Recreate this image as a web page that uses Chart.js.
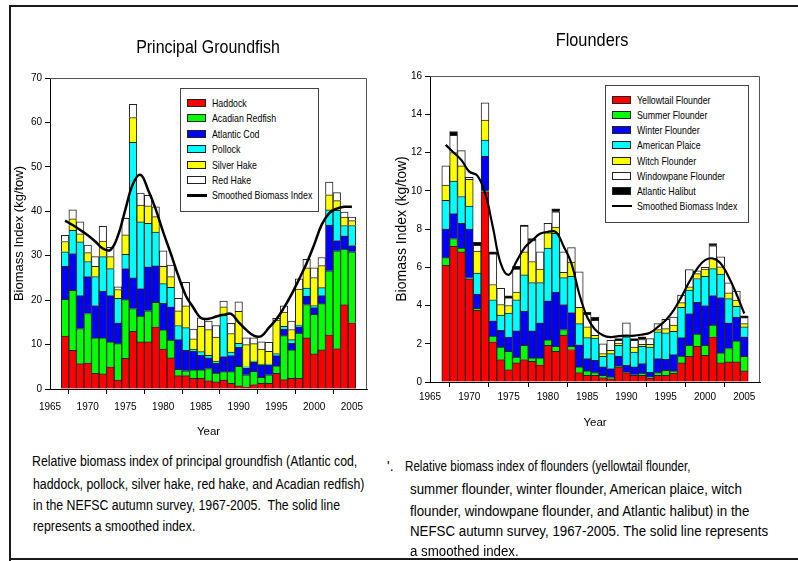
<!DOCTYPE html>
<html>
<head>
<meta charset="utf-8">
<script src="https://cdn.jsdelivr.net/npm/chart.js@4/dist/chart.umd.min.js"></script>
<style>
  body { margin: 0; width: 798px; height: 561px; background: #fff; position: relative; overflow: hidden;
         font-family: 'Liberation Sans', Arial, sans-serif; color: #000; }
  canvas { position: absolute; top: 0; }
  .rule { position: absolute; background: #1a1a1a; }
  .title { position: absolute; font-size: 19px; white-space: nowrap; transform-origin: center center; }
  .legend { position: absolute; border: 1px solid #444; background: #fff; box-sizing: border-box; }
  .legend .row { position: absolute; height: 15px; line-height: 15px; font-size: 11px; white-space: nowrap; }
  .legend .sw { position: absolute; top: 3px; left: 0; width: 19px; height: 8px; border: 1px solid #222; box-sizing: border-box; }
  .legend .ln { position: absolute; top: 6px; left: 0; width: 20px; height: 2.5px; background: #000; }
  .legend .lbl { position: absolute; left: 25px; top: 0; transform: scaleX(0.8); transform-origin: left center; }
  .cap { position: absolute; font-size: 14px; line-height: 21px; white-space: nowrap; transform-origin: left center; }
</style>
</head>
<body>
<canvas id="groundfish" width="380" height="450" style="left:0"></canvas>
<canvas id="flounders" width="418" height="450" style="left:380px"></canvas>

<div class="rule" style="left:9px;top:5px;width:789px;height:2px"></div>
<div class="rule" style="left:9px;top:5px;width:2px;height:556px"></div>
<div class="rule" style="left:9px;top:558px;width:789px;height:2px"></div>

<div class="title" style="left:208px;top:47px;transform:translate(-50%,-50%) scaleX(0.84)">Principal Groundfish</div>
<div class="title" style="left:592px;top:40px;transform:translate(-50%,-50%) scaleX(0.86)">Flounders</div>

<div class="legend" id="legendLeft" style="left:180px;top:88px;width:139px;height:124px"></div>
<div class="legend" id="legendRight" style="left:605px;top:85px;width:144px;height:138px"></div>

<div class="cap" style="left:32px;top:451px;transform:scaleX(0.88)">Relative biomass index of principal groundfish (Atlantic cod,</div>
<div class="cap" style="left:33px;top:474px;transform:scaleX(0.88)">haddock, pollock, silver hake, red hake, and Acadian redfish)</div>
<div class="cap" style="left:33px;top:495px;transform:scaleX(0.88)">in the NEFSC autumn survey, 1967-2005.&nbsp; The solid line</div>
<div class="cap" style="left:33px;top:516px;transform:scaleX(0.88)">represents a smoothed index.</div>

<div class="cap" style="left:387px;top:456px">'.</div>
<div class="cap" style="left:405px;top:456px;transform:scaleX(0.83)">Relative biomass index of flounders (yellowtail flounder,</div>
<div class="cap" style="left:410px;top:479px;transform:scaleX(0.95)">summer flounder, winter flounder, American plaice, witch</div>
<div class="cap" style="left:410px;top:501px;transform:scaleX(0.95)">flounder, windowpane flounder, and Atlantic halibut) in the</div>
<div class="cap" style="left:410px;top:521px;transform:scaleX(0.95)">NEFSC autumn survey, 1967-2005. The solid line represents</div>
<div class="cap" style="left:410px;top:541px;transform:scaleX(0.95)">a smoothed index.</div>

<script>
// survey years and axis ticks
const years = [1967, 1968, 1969, 1970, 1971, 1972, 1973, 1974, 1975, 1976,
  1977, 1978, 1979, 1980, 1981, 1982, 1983, 1984, 1985, 1986,
  1987, 1988, 1989, 1990, 1991, 1992, 1993, 1994, 1995, 1996,
  1997, 1998, 1999, 2000, 2001, 2002, 2003, 2004, 2005];
const yearTicks = [1965, 1970, 1975, 1980, 1985, 1990, 1995, 2000, 2005];
const groundfishTicks = [0, 10, 20, 30, 40, 50, 60, 70];
const flounderTicks = [0, 2, 4, 6, 8, 10, 12, 14, 16];

// principal groundfish, kg/tow per species (stack segments)
const haddock = [11.9, 8.7, 5.7, 5.9, 3.5, 3.4, 5.0, 2.0, 6.9, 13.0, 10.6, 10.6, 14.0, 9.0, 7.0, 3.0, 3.0, 2.4, 2.4, 1.9,
  1.6, 2.0, 1.3, 0.7, 0.5, 1.0, 1.3, 1.3, 3.5, 2.1, 2.4, 2.4, 11.5, 7.9, 8.8, 12.2, 9.1, 19.0, 14.9];
const redfish = [8.3, 13.5, 7.9, 11.1, 8.0, 8.1, 5.6, 8.2, 13.2, 5.1, 5.8, 7.0, 5.5, 4.3, 4.0, 1.4, 1.1, 1.9, 1.9, 2.7,
  2.0, 1.9, 2.6, 4.4, 2.7, 3.0, 1.3, 1.9, 1.7, 9.9, 6.4, 10.2, 7.5, 8.9, 10.4, 14.4, 22.0, 12.5, 16.0];
const cod = [7.4, 8.3, 7.4, 8.3, 7.3, 10.5, 10.4, 4.7, 7.0, 6.9, 6.2, 9.9, 8.2, 6.0, 7.5, 6.7, 4.6, 4.2, 3.3, 2.4,
  2.2, 3.4, 3.6, 4.3, 1.5, 2.0, 2.7, 2.2, 2.3, 1.5, 1.5, 1.4, 1.9, 1.5, 1.8, 10.3, 2.3, 3.0, 1.4];
const pollock = [3.3, 5.2, 12.1, 3.4, 6.5, 7.8, 6.1, 5.5, 3.2, 30.5, 15.0, 9.8, 7.6, 4.4, 4.4, 3.2, 5.1, 0.5, 0.8, 0.6,
  0.5, 9.3, 0.8, 0.9, 0.3, 0.3, 0.3, 0.2, 0.5, 0.6, 0.8, 0.4, 1.8, 0.5, 1.8, 3.4, 6.8, 2.3, 4.5];
const silverHake = [2.3, 2.6, 1.8, 2.0, 2.3, 3.5, 2.7, 2.0, 4.4, 5.6, 3.8, 3.9, 3.5, 3.9, 2.4, 3.3, 4.9, 2.3, 5.7, 5.8,
  5.4, 1.9, 4.2, 7.2, 5.0, 3.9, 3.4, 2.9, 7.5, 3.2, 2.3, 8.1, 4.6, 6.3, 5.0, 3.4, 2.2, 1.9, 1.1];
const redHake = [1.4, 2.0, 2.7, 1.7, 2.2, 3.3, 2.1, 0.6, 3.7, 3.0, 2.7, 2.4, 2.2, 3.5, 2.6, 2.8, 5.3, 2.2, 1.9, 1.9,
  2.6, 1.3, 2.3, 2.1, 1.5, 1.3, 1.6, 2.0, 0.4, 1.4, 1.9, 2.3, 1.9, 2.2, 1.8, 2.9, 1.8, 1.1, 0.8];
const groundfishSmooth = [37.9, 36.9, 35.8, 34.6, 33.2, 31.6, 31.3, 34.5, 40.5, 46.2, 48.2, 44.8, 40.5, 35.3, 30.5, 25.5, 21.0, 18.3, 16.0, 15.8,
  16.3, 16.7, 16.9, 15.0, 13.3, 12.0, 11.9, 13.8, 15.7, 18.3, 21.3, 24.7, 28.3, 32.5, 37.0, 39.6, 40.6, 41.0, 41.0];

// flounders, kg/tow per species (stack segments)
const yellowtail = [6.1, 7.1, 6.8, 5.4, 3.75, 9.95, 2.1, 1.17, 0.65, 1.0, 1.17, 1.08, 0.9, 1.92, 1.6, 2.45, 1.7, 0.49, 0.35, 0.35,
  0.23, 0.17, 0.79, 0.49, 0.35, 0.35, 0.21, 0.35, 0.35, 0.47, 1.0, 1.34, 1.87, 1.4, 2.36, 1.0, 1.05, 1.05, 0.58];
const summerFl = [0.4, 0.4, 0.2, 0.05, 0.1, 0.05, 0.3, 0.66, 0.95, 0.3, 0.75, 0.18, 0.36, 0.28, 0.27, 0.29, 0.17, 0.3, 0.23, 0.14,
  0.12, 0.09, 0.03, 0.03, 0.03, 0.12, 0.05, 0.14, 0.26, 0.11, 0.36, 0.58, 0.63, 0.52, 0.61, 0.52, 0.7, 1.1, 0.76];
const winterFl = [1.5, 1.3, 1.3, 2.55, 0.75, 1.8, 0.8, 0.87, 0.75, 1.37, 1.78, 1.41, 1.84, 2.05, 2.83, 1.31, 1.76, 1.16, 0.64, 0.64,
  0.44, 0.44, 0.52, 0.35, 0.41, 0.49, 0.26, 0.73, 0.58, 0.85, 0.96, 1.66, 1.67, 2.08, 1.55, 2.9, 1.35, 1.25, 1.02];
const plaice = [1.5, 1.7, 1.4, 1.2, 1.1, 0.85, 1.1, 0.8, 1.25, 1.63, 1.9, 2.53, 2.1, 2.75, 3.07, 1.41, 1.9, 1.1, 1.1, 1.17,
  0.55, 0.78, 0.58, 1.49, 0.78, 0.91, 1.31, 1.4, 1.38, 1.22, 1.58, 1.22, 1.24, 1.53, 1.41, 1.22, 1.26, 0.56, 0.52];
const witchFl = [0.8, 1.5, 1.6, 1.4, 1.15, 1.05, 0.8, 0.55, 0.4, 0.4, 1.2, 1.1, 0.7, 0.8, 0.33, 0.28, 0.74, 0.85, 0.56, 0.14,
  0.14, 0.18, 0.12, 0.07, 0.26, 0.1, 0.14, 0.12, 0.22, 0.32, 0.25, 0.17, 0.26, 0.37, 0.53, 0.38, 0.3, 0.32, 0.17];
const windowpane = [1.0, 0.9, 0.8, 0.1, 0.3, 0.9, 1.6, 0.85, 0.4, 1.2, 1.35, 1.1, 0.9, 0.5, 0.8, 1.06, 0.76, 1.86, 0.66, 0.79,
  0.52, 0.52, 0.14, 0.66, 0.35, 0.25, 0.3, 0.31, 0.49, 0.43, 0.39, 0.91, 0.14, 0.1, 0.66, 0.52, 0.52, 0.47, 0.32];
const halibut = [0, 0.2, 0, 0, 0.15, 0, 0.1, 0, 0.1, 0.15, 0.06, 0.1, 0, 0, 0.15, 0, 0, 0, 0.1, 0.15,
  0, 0, 0.09, 0, 0.09, 0.14, 0, 0, 0, 0, 0, 0, 0, 0, 0.12, 0, 0, 0, 0.09];
const flounderSmooth = [12.4, 12.0, 11.6, 11.0, 10.8, 9.9, 8.1, 6.2, 5.6, 6.3, 7.0, 7.4, 7.75, 7.85, 7.85, 7.1, 6.2, 4.6, 3.4, 2.75,
  2.45, 2.35, 2.4, 2.42, 2.42, 2.48, 2.57, 2.88, 3.23, 3.75, 4.45, 5.24, 5.93, 6.37, 6.46, 6.2, 5.5, 4.6, 3.58];

const groundfishSeries = [
  ['Haddock', haddock, '#ff0000'],
  ['Acadian Redfish', redfish, '#00ff00'],
  ['Atlantic Cod', cod, '#0000ff'],
  ['Pollock', pollock, '#00ffff'],
  ['Silver Hake', silverHake, '#ffff00'],
  ['Red Hake', redHake, '#ffffff']
];
const flounderSeries = [
  ['Yellowtail Flounder', yellowtail, '#ff0000'],
  ['Summer Flounder', summerFl, '#00ff00'],
  ['Winter Flounder', winterFl, '#0000ff'],
  ['American Plaice', plaice, '#00ffff'],
  ['Witch Flounder', witchFl, '#ffff00'],
  ['Windowpane Flounder', windowpane, '#ffffff'],
  ['Atlantic Halibut', halibut, '#000000']
];

Chart.defaults.font.family = "'Liberation Sans', Arial, sans-serif";
Chart.defaults.color = '#000';

// thin box round the plot area (top and right sides)
const plotFrame = {
  id: 'plotFrame',
  afterDraw(chart) {
    const a = chart.chartArea, ctx = chart.ctx;
    ctx.save();
    ctx.strokeStyle = '#555';
    ctx.lineWidth = 1;
    ctx.beginPath();
    ctx.moveTo(a.left, a.top + 0.5);
    ctx.lineTo(a.right - 0.5, a.top + 0.5);
    ctx.lineTo(a.right - 0.5, a.bottom);
    ctx.stroke();
    ctx.restore();
  }
};

function makeChart(id, series, smooth, yTicks, yMax, opt) {
  const datasets = series.map(([label, values, color]) => ({
    type: 'bar',
    label: label,
    data: values.map((v, i) => ({ x: years[i], y: v || null })),
    backgroundColor: color,
    borderColor: '#222',
    borderWidth: 1,
    barPercentage: 1,
    categoryPercentage: 1,
    order: 1
  }));
  datasets.push({
    type: 'line',
    label: 'Smoothed Biomass Index',
    data: smooth.map((v, i) => ({ x: years[i], y: v })),
    borderColor: '#000',
    borderWidth: opt.lineWidth,
    pointRadius: 0,
    tension: 0.4,
    stack: 'smooth',
    order: 0
  });

  return new Chart(document.getElementById(id), {
    type: 'bar',
    data: { datasets: datasets },
    options: {
      responsive: false,
      animation: false,
      layout: { padding: opt.padding },
      plugins: { legend: { display: false }, tooltip: { enabled: false } },
      scales: {
        x: {
          type: 'linear',
          stacked: true,
          offset: false,
          min: 1965,
          max: 2007,
          afterBuildTicks: s => { s.ticks = yearTicks.map(v => ({ value: v })); },
          afterFit: s => { s.height = opt.xHeight; },
          ticks: { callback: v => String(v), font: { size: 10 }, padding: opt.xPad, maxRotation: 0 },
          grid: { drawOnChartArea: false, tickLength: 5, color: '#000' },
          border: { color: '#000' },
          title: { display: true, text: 'Year', font: { size: 11.5 }, padding: { bottom: opt.yearPad } }
        },
        y: {
          stacked: true,
          min: 0,
          max: yMax,
          afterBuildTicks: s => { s.ticks = yTicks.map(v => ({ value: v })); },
          afterFit: s => { s.width = 50; },
          ticks: { font: { size: 10 } },
          grid: { drawOnChartArea: false, tickLength: 5, color: '#000' },
          border: { color: '#000' },
          title: {
            display: true, text: 'Biomass Index (kg/tow)',
            font: { size: opt.yTitleSize },
            padding: { top: opt.yTitlePad }
          }
        }
      }
    },
    plugins: [plotFrame]
  });
}

makeChart('groundfish', groundfishSeries, groundfishSmooth, groundfishTicks, 70, {
  padding: { top: 78, right: 13, left: 0, bottom: 0 },
  xHeight: 61, xPad: 7, yearPad: 11, yTitleSize: 13, yTitlePad: 12, lineWidth: 2.5
});
makeChart('flounders', flounderSeries, flounderSmooth, flounderTicks, 16, {
  padding: { top: 76, right: 38, left: 0, bottom: 0 },
  xHeight: 68, xPad: 4, yearPad: 20, yTitleSize: 14, yTitlePad: 14, lineWidth: 2.2
});

// legend boxes drawn from the same series lists
function buildLegend(boxId, series, firstRow, step, swLeft) {
  const box = document.getElementById(boxId);
  const entries = series.map(s => [s[0], s[2]]).concat([['Smoothed Biomass Index', null]]);
  entries.forEach(([label, color], i) => {
    const row = document.createElement('div');
    row.className = 'row';
    row.style.left = swLeft + 'px';
    row.style.top = (firstRow + i * step - 7.5) + 'px';
    row.style.width = '120px';
    const mark = document.createElement('span');
    if (color) {
      mark.className = 'sw';
      mark.style.background = color;
    } else {
      mark.className = 'ln';
    }
    row.appendChild(mark);
    const txt = document.createElement('span');
    txt.className = 'lbl';
    txt.textContent = label;
    row.appendChild(txt);
    box.appendChild(row);
  });
}
buildLegend('legendLeft', groundfishSeries, 14.5, 15.4, 6);
buildLegend('legendRight', flounderSeries, 14.8, 15.05, 6);
</script>
</body>
</html>
